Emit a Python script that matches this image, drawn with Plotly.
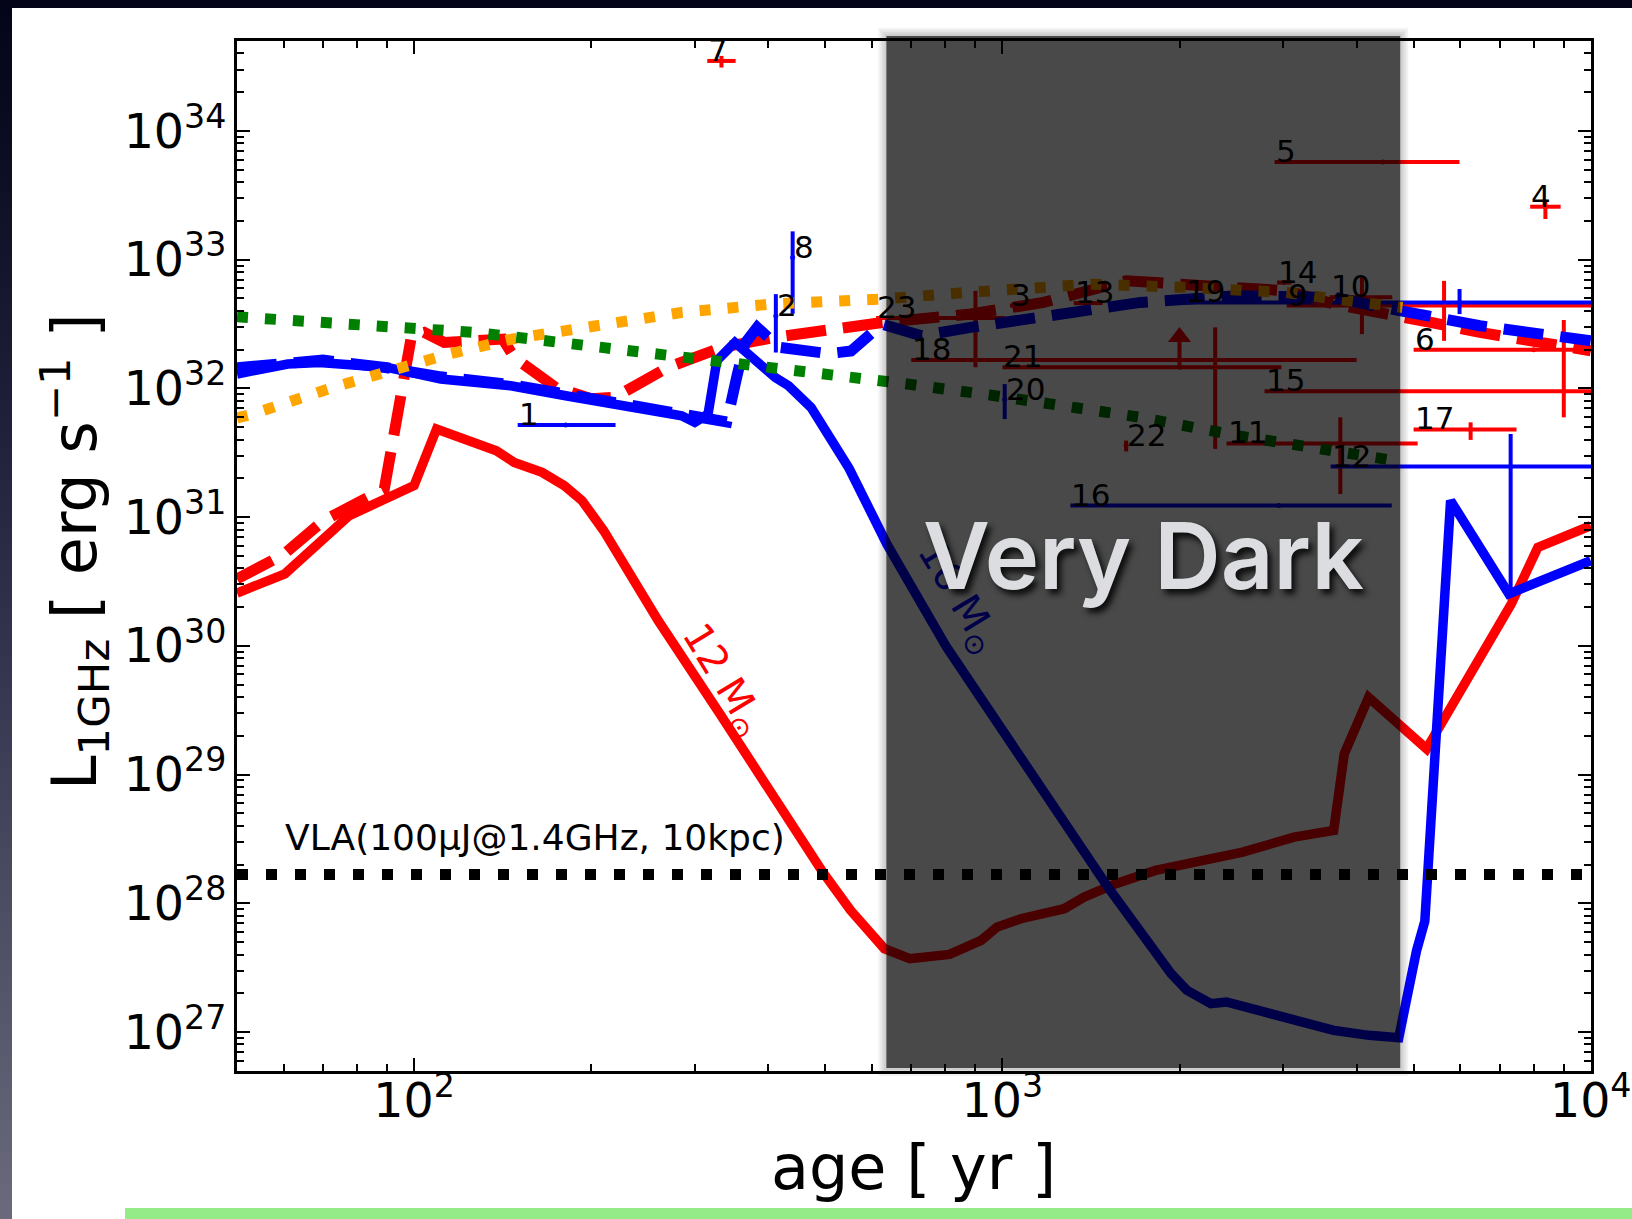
import math
import plotly.graph_objects as go

# ---------------- model light curves: age [yr], log10 L_1GHz [erg/s] ----------------
RED_SOLID_AGE = [50, 60.3, 77.6, 87.8, 100, 109.2, 120, 131, 138, 148, 165, 180, 193, 210, 234, 260,
                 331, 452, 495, 552, 630, 696, 741, 813, 920, 979, 1075, 1274, 1377, 1559, 1821,
                 2127, 2561, 3131, 3657, 3811, 4193, 5260, 7330, 8130, 10000]
RED_SOLID_LOGL = [30.41, 30.559, 31.012, 31.128, 31.245, 31.685, 31.62, 31.568, 31.516, 31.425, 31.348,
                  31.245, 31.128, 30.895, 30.533, 30.196, 29.472, 28.514, 28.242, 27.945, 27.647, 27.57,
                  27.582, 27.603, 27.712, 27.815, 27.88, 27.958, 28.048, 28.152, 28.255, 28.32, 28.397,
                  28.514, 28.566, 29.161, 29.6, 29.2, 30.326, 30.765, 30.934]

RED_DASH_AGE = [50, 60, 70, 78, 89, 99, 104, 112.5, 141.5, 148, 174, 200, 219, 270, 333, 410, 625, 883,
                1175, 1622, 2281, 3034, 3667, 4607, 5360, 6480, 7840, 10000]
RED_DASH_LOGL = [30.52, 30.71, 30.97, 31.08, 31.22, 32.41, 32.435, 32.357, 32.383, 32.24, 32.008, 31.92,
                 31.93, 32.163, 32.318, 32.396, 32.512, 32.578, 32.668, 32.836, 32.784, 32.759, 32.655,
                 32.578, 32.512, 32.435, 32.37, 32.293]

BLUE_SOLID_AGE = [50, 61, 69, 90, 111, 146, 181, 248, 285, 300, 316, 327, 351, 411, 433, 473, 515, 549,
                  636, 804, 1511, 1936, 2059, 2261, 2404, 2599, 3131, 3657, 4199, 4718, 5059, 5224, 5779,
                  7258, 10000]
BLUE_SOLID_LOGL = [32.112, 32.189, 32.202, 32.163, 32.073, 32.021, 31.943, 31.84, 31.788, 31.736, 31.801,
                   32.215, 32.357, 32.085, 32.021, 31.852, 31.568, 31.377, 30.792, 29.989, 28.126, 27.453,
                   27.324, 27.22, 27.233, 27.194, 27.09, 27.013, 26.974, 26.956, 27.634, 27.86, 31.128,
                   30.404, 30.662]

BLUE_DASH_AGE = [50, 60, 70, 90, 111, 146, 181, 248, 285, 310, 340, 354, 365, 383, 417, 506, 553, 624,
                 729, 883, 1175, 1716, 2508, 3667, 4434, 6480, 10000]
BLUE_DASH_LOGL = [32.16, 32.2, 32.22, 32.16, 32.09, 32.03, 31.96, 31.85, 31.80, 31.77, 31.74, 32.1, 32.35,
                  32.474, 32.32, 32.27, 32.29, 32.5, 32.409, 32.474, 32.565, 32.668, 32.72, 32.707, 32.629,
                  32.487, 32.37]

ORANGE_AGE = [50, 53.2, 72.8, 93, 114.7, 146.5, 200.7, 284.6, 404, 625, 866, 1419, 2075, 3034, 3667, 4786]
ORANGE_LOGL = [31.77, 31.801, 32.008, 32.151, 32.267, 32.383, 32.487, 32.59, 32.655, 32.694, 32.745,
               32.81, 32.784, 32.745, 32.694, 32.629]

GREEN_AGE = [50, 89.8, 127, 197, 310, 441, 620, 690, 971, 1290, 1716, 2508, 3334, 4643]
GREEN_LOGL = [32.556, 32.487, 32.435, 32.332, 32.228, 32.15, 32.073, 32.034, 31.943, 31.866, 31.775,
              31.633, 31.542, 31.439]

VLA_LIMIT = 1.67e28          # 100 uJy at 1.4 GHz, 10 kpc
AGE_MIN, AGE_MAX = 50, 1e4
DARK_AGES = [635, 4745]      # "very dark" interval

# ---------------- observed sources ----------------
# id, age, age_lo, age_hi, L, L_lo, L_hi   (None = no error in that direction)
RED_ID = ["3", "4", "5", "6", "7", "9", "10", "11", "13", "14", "15", "17", "18", "21", "22", "23"]
RED_AGE = [1080, 8375, 4436, 8000, 333, 5633, 4084, 3753, 1400, 3010, 9000, 6250, 2300, 2000, 1623, 900]
RED_AGE_LO = [1030, 7890, 2902, 5000, 315, 3043, 3600, 2404, 1322, 2930, 2790, 5000, 700, 1000, None, 610]
RED_AGE_HI = [1130, 8890, 5984, 13000, 352, 15000, 4600, 5080, 1480, 3100, 15200, 7480, 4000, 2980, None, 1010]
RED_L = [4.4e32, 2.58e33, 5.75e33, 2.0e32, 3.5e34, 4.4e32, 5.1e32, 3.74e31, 4.6e32, 6.65e32, 9.5e31,
         4.8e31, 1.66e32, 1.46e32, 3.6e31, 3.53e32]
RED_L_LO = [None, 2.07e33, None, None, 3.11e34, 2.34e32, 2.64e32, 1.51e31, None, None, 5.96e31, 3.98e31,
            3.39e31, None, 3.24e31, 1.46e32]
RED_L_HI = [None, 2.86e33, None, None, 3.83e34, 6.85e32, 7.28e32, 5.96e31, None, None, 3.4e32, 5.45e31,
            2.98e32, None, 3.93e31, 5.73e32]
LOWER_LIMIT_ID = "21"

BLUE_ID = ["1", "2", "8", "12", "16", "19", "20"]
BLUE_AGE = [181, 412, 440, 7310, 2950, 5985, 1009]
BLUE_AGE_LO = [150, None, None, 3614, 1305, 2042, None]
BLUE_AGE_HI = [220, None, None, 11000, 4590, 15000, None]
BLUE_L = [5.2e31, 3.66e32, 1.04e33, 2.47e31, 1.23e31, 4.66e32, 8.2e31]
BLUE_L_LO = [None, 1.9e32, 3.8e32, 2.33e30, None, 3.78e32, 5.78e31]
BLUE_L_HI = [None, 5.4e32, 1.66e33, 4.43e31, None, 5.92e32, 1.08e32]

# ---------------- figure geometry ----------------
W, H = 1632, 1219
ML, MR, MT, MB = 237, 41, 41, 148
PW, PH = W - ML - MR, H - MT - MB
FONT = "DejaVu Sans"


def px(x):
    return (x - ML) / PW


def py(y):
    return (H - MB - y) / PH


def pow10(vals):
    return [10 ** v for v in vals]


fig = go.Figure()


def add_sources(age, lo, hi, L, llo, lhi, color):
    ex_p = [(h - a) if h is not None else 0 for a, h in zip(age, hi)]
    ex_m = [(a - l) if l is not None else 0 for a, l in zip(age, lo)]
    ey_p = [(h - v) if h is not None else 0 for v, h in zip(L, lhi)]
    ey_m = [(v - l) if l is not None else 0 for v, l in zip(L, llo)]
    fig.add_trace(go.Scatter(
        x=age, y=L, mode="markers", marker=dict(size=5, color=color), showlegend=False,
        error_x=dict(type="data", symmetric=False, array=ex_p, arrayminus=ex_m,
                     color=color, thickness=4, width=0),
        error_y=dict(type="data", symmetric=False, array=ey_p, arrayminus=ey_m,
                     color=color, thickness=4, width=0),
    ))


add_sources(RED_AGE, RED_AGE_LO, RED_AGE_HI, RED_L, RED_L_LO, RED_L_HI, "red")
add_sources(BLUE_AGE, BLUE_AGE_LO, BLUE_AGE_HI, BLUE_L, BLUE_L_LO, BLUE_L_HI, "blue")

# lower-limit arrow for source 21
k = RED_ID.index(LOWER_LIMIT_ID)
a21, l21 = RED_AGE[k], RED_L[k]
fig.add_trace(go.Scatter(x=[a21, a21], y=[l21, l21 * 10 ** 0.24], mode="lines",
                         line=dict(color="red", width=4), showlegend=False))
fig.add_trace(go.Scatter(x=[a21], y=[l21 * 10 ** 0.235], mode="markers",
                         marker=dict(symbol="triangle-up", size=20, color="red"), showlegend=False))

DASH = "40px,17px"
DOT = "11px,17px"
fig.add_trace(go.Scatter(x=RED_SOLID_AGE, y=pow10(RED_SOLID_LOGL), mode="lines",
                         line=dict(color="red", width=9.5), showlegend=False))
fig.add_trace(go.Scatter(x=RED_DASH_AGE, y=pow10(RED_DASH_LOGL), mode="lines",
                         line=dict(color="red", width=11, dash=DASH), showlegend=False))
fig.add_trace(go.Scatter(x=BLUE_SOLID_AGE, y=pow10(BLUE_SOLID_LOGL), mode="lines",
                         line=dict(color="blue", width=9.5), showlegend=False))
fig.add_trace(go.Scatter(x=BLUE_DASH_AGE, y=pow10(BLUE_DASH_LOGL), mode="lines",
                         line=dict(color="blue", width=11, dash=DASH), showlegend=False))
fig.add_trace(go.Scatter(x=ORANGE_AGE, y=pow10(ORANGE_LOGL), mode="lines",
                         line=dict(color="orange", width=11, dash=DOT), showlegend=False))
fig.add_trace(go.Scatter(x=GREEN_AGE, y=pow10(GREEN_LOGL), mode="lines",
                         line=dict(color="green", width=11, dash=DOT), showlegend=False))
fig.add_trace(go.Scatter(x=[AGE_MIN, AGE_MAX], y=[VLA_LIMIT, VLA_LIMIT], mode="lines",
                         line=dict(color="black", width=11, dash="11px,18px"), showlegend=False))

# ---------------- annotations ----------------
ann = []


def label_pos(age, lo):
    return age if lo is None else lo


for i, a, lo, L in zip(RED_ID, RED_AGE, RED_AGE_LO, RED_L):
    ann.append(dict(x=math.log10(label_pos(a, lo)), y=math.log10(L), text=i))
for i, a, lo, L in zip(BLUE_ID, BLUE_AGE, BLUE_AGE_LO, BLUE_L):
    ann.append(dict(x=math.log10(label_pos(a, lo)), y=math.log10(L), text=i))
for d in ann:
    d.update(xref="x", yref="y", showarrow=False, xanchor="left", yanchor="bottom",
             yshift=-8, borderpad=0, font=dict(family=FONT, size=31, color="black"))

ann.append(dict(x=math.log10(60.1), y=math.log10(2.54e28), xref="x", yref="y", showarrow=False,
                text="VLA(100μJ@1.4GHz, 10kpc)", xanchor="left", yanchor="bottom", yshift=-8,
                borderpad=0, font=dict(family=FONT, size=36, color="black")))
ann.append(dict(x=2.5255, y=29.73, xref="x", yref="y", showarrow=False, text="12 M<sub>⊙</sub>",
                textangle=58.6, font=dict(family=FONT, size=40, color="red")))
ann.append(dict(x=2.925, y=30.375, xref="x", yref="y", showarrow=False, text="16 M<sub>⊙</sub>",
                textangle=58.8, font=dict(family=FONT, size=40, color="#00004a")))
ann.append(dict(x=math.log10(1739), y=30.701, xref="x", yref="y", showarrow=False, text="Very Dark",
                xanchor="center", yanchor="middle",
                font=dict(family="Inter", size=92, weight=600, color="#dcdde0",
                          shadow="4px 5px 6px rgba(0,0,0,0.85)")))
# axis titles
ann.append(dict(x=px(913), y=py(1167), xref="paper", yref="paper", showarrow=False,
                text="age [ yr ]", xanchor="center", yanchor="middle",
                font=dict(family=FONT, size=62, color="black")))
ann.append(dict(x=px(74), y=py(552), xref="paper", yref="paper", showarrow=False,
                text="L<sub>1GHz</sub> [ erg s<sup>−1</sup> ]", textangle=-90,
                xanchor="center", yanchor="middle",
                font=dict(family=FONT, size=62, color="black")))

# ---------------- shapes: slide frame and shaded interval ----------------
shapes = []
# slide frame: dark top strip and left gradient strip
shapes.append(dict(type="rect", xref="paper", yref="paper", x0=px(0), x1=px(W), y0=py(8), y1=py(0),
                   fillcolor="#05051a", line=dict(width=0), layer="below"))
stops = [(0, (5, 5, 24)), (150, (12, 12, 34)), (400, (30, 30, 56)), (700, (56, 56, 82)),
         (1000, (86, 86, 106)), (1219, (106, 106, 124))]


def grad(y):
    for (y0, c0), (y1, c1) in zip(stops[:-1], stops[1:]):
        if y0 <= y <= y1:
            t = (y - y0) / (y1 - y0)
            return tuple(int(round(c0[j] + t * (c1[j] - c0[j]))) for j in range(3))
    return stops[-1][1]


step = 16
for y in range(0, H, step):
    c = grad(y + step / 2)
    shapes.append(dict(type="rect", xref="paper", yref="paper", x0=px(0), x1=px(12),
                       y0=py(min(y + step, H)), y1=py(y),
                       fillcolor="rgb(%d,%d,%d)" % c, line=dict(width=0), layer="below"))
# green footer bar
shapes.append(dict(type="rect", xref="paper", yref="paper", x0=px(125), x1=px(W), y0=py(H), y1=py(1208),
                   fillcolor="#95eb88", line=dict(width=0), layer="below"))

# shaded "very dark" interval with a soft edge
f = 10 ** (2 / 588)
for s, op in [(4, 0.05), (3, 0.05), (2, 0.05), (1, 0.05)]:
    shapes.append(dict(type="rect", xref="x", yref="paper",
                       x0=DARK_AGES[0] / f ** s, x1=DARK_AGES[1] * f ** s,
                       y0=py(1068 + 2 * s), y1=py(36 - 2 * s),
                       fillcolor="black", opacity=op, line=dict(width=0), layer="above"))
shapes.append(dict(type="rect", xref="x", yref="paper", x0=DARK_AGES[0], x1=DARK_AGES[1],
                   y0=py(1068), y1=py(36), fillcolor="black", opacity=0.644,
                   line=dict(width=0), layer="above"))

axis_common = dict(
    type="log", dtick=1, exponentformat="power", showline=True, linecolor="black", linewidth=3,
    mirror="ticks", ticks="inside", ticklen=13, tickwidth=2, tickcolor="black",
    showgrid=False, zeroline=False, tickfont=dict(family=FONT, size=38, color="black"),
    minor=dict(ticks="inside", ticklen=7, tickwidth=1.5, tickcolor="black", showgrid=False),
)

fig.update_layout(
    width=W, height=H, margin=dict(l=ML, r=MR, t=MT, b=MB, autoexpand=False),
    paper_bgcolor="white", plot_bgcolor="white",
    xaxis=dict(range=[math.log10(AGE_MIN), math.log10(AGE_MAX) + 0.0005], ticklabelstandoff=-12,
               **axis_common),
    yaxis=dict(range=[26.697, 34.699], ticklabelstandoff=0, **axis_common),
    shapes=shapes, annotations=ann, showlegend=False,
    font=dict(family=FONT, color="black"),
)

fig.write_html("out.html")
